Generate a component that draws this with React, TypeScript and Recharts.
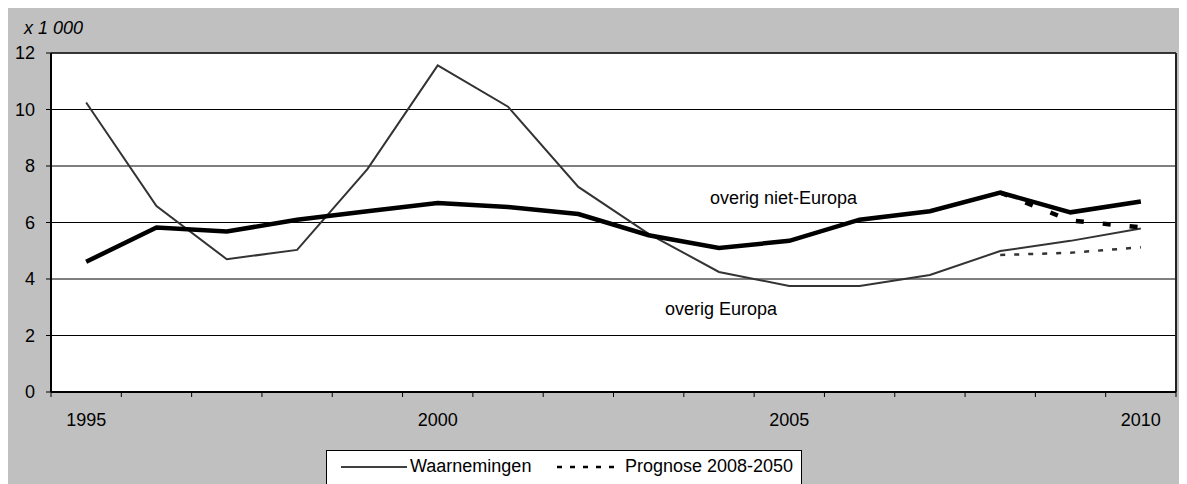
import React from "react";
import {
  LineChart,
  Line,
  XAxis,
  YAxis,
  CartesianGrid,
  ReferenceLine,
} from "recharts";

const years = [1995, 1996, 1997, 1998, 1999, 2000, 2001, 2002, 2003, 2004, 2005, 2006, 2007, 2008, 2009, 2010];
const overigEuropa = [10.25, 6.58, 4.7, 5.03, 7.89, 11.56, 10.1, 7.26, 5.6, 4.25, 3.75, 3.75, 4.14, 4.99, 5.35, 5.79];
const overigNietEuropa = [4.61, 5.82, 5.68, 6.1, 6.4, 6.69, 6.55, 6.3, 5.55, 5.1, 5.35, 6.1, 6.4, 7.06, 6.36, 6.74];
const prognoseYears = [2008, 2009, 2010];
const prognoseEuropa = [4.85, 4.93, 5.12];
const prognoseNietEuropa = [7.06, 6.07, 5.83];
const yTicks = [0, 2, 4, 6, 8, 10, 12];
const xLabelTicks = [1995, 2000, 2005, 2010];
const xMarkTicks = [...years.map((y) => y - 0.5), 2010.5];

const data = years.map((y, i) => {
  const pi = prognoseYears.indexOf(y);
  return {
    year: y,
    europa: overigEuropa[i],
    nietEuropa: overigNietEuropa[i],
    progEuropa: pi >= 0 ? prognoseEuropa[pi] : null,
    progNietEuropa: pi >= 0 ? prognoseNietEuropa[pi] : null,
  };
});

const FONT = "'Liberation Sans', Arial, sans-serif";
const tickStyle = { fontSize: 18, fill: "#000", fontFamily: FONT };

const TickMark = (props: any) => {
  const yb = Math.max(props.y1, props.y2);
  return <line x1={props.x1} x2={props.x1} y1={yb} y2={yb + 5} stroke="#000" strokeWidth={1} />;
};

export default function App() {
  return (
    <div
      style={{
        position: "relative",
        width: 1181,
        height: 476,
        marginLeft: -2,
        background: "#c0c0c0",
        overflow: "hidden",
        fontFamily: FONT,
      }}
    >
      <LineChart
        width={1181}
        height={476}
        data={data}
        margin={{ top: 45, right: 11, left: 0, bottom: 62 }}
      >
        <CartesianGrid
          horizontal={true}
          vertical={false}
          stroke="#000"
          strokeWidth={1}
          fill="#fff"
          fillOpacity={1}
        />
        <XAxis
          dataKey="year"
          type="number"
          domain={[1994.5, 2010.5]}
          ticks={xLabelTicks}
          interval={0}
          height={30}
          tickLine={false}
          axisLine={false}
          tickSize={6}
          tickMargin={15}
          tick={tickStyle}
          allowDataOverflow
        />
        <YAxis
          type="number"
          domain={[0, 12]}
          ticks={yTicks}
          interval={0}
          width={45}
          tickSize={5}
          tickMargin={11}
          tick={tickStyle}
          tickLine={{ stroke: "#000", strokeWidth: 1 }}
          axisLine={{ stroke: "#000", strokeWidth: 2 }}
        />
        {xMarkTicks.map((t) => (
          <ReferenceLine key={t} x={t} ifOverflow="visible" shape={TickMark} />
        ))}
        <ReferenceLine x={2010.5} stroke="#222" strokeWidth={2} ifOverflow="visible" />
        <ReferenceLine y={12} stroke="#222" strokeWidth={1.5} ifOverflow="visible" />
        <ReferenceLine y={0} stroke="#000" strokeWidth={2} ifOverflow="visible" />
        <Line
          type="linear"
          dataKey="europa"
          stroke="#333"
          strokeWidth={2}
          dot={false}
          isAnimationActive={false}
        />
        <Line
          type="linear"
          dataKey="nietEuropa"
          stroke="#000"
          strokeWidth={4.5}
          dot={false}
          isAnimationActive={false}
        />
        <Line
          type="linear"
          dataKey="progEuropa"
          stroke="#333"
          strokeWidth={2.5}
          strokeDasharray="5 9"
          dot={false}
          connectNulls={false}
          isAnimationActive={false}
        />
        <Line
          type="linear"
          dataKey="progNietEuropa"
          stroke="#000"
          strokeWidth={4.5}
          strokeDasharray="8 19"
          dot={false}
          connectNulls={false}
          isAnimationActive={false}
        />
      </LineChart>

      <div style={{ position: "absolute", left: 18, top: 10, fontSize: 18, fontStyle: "italic", color: "#000" }}>
        x 1 000
      </div>
      <div style={{ position: "absolute", left: 704, top: 180, fontSize: 18, color: "#000", whiteSpace: "nowrap" }}>
        overig niet-Europa
      </div>
      <div style={{ position: "absolute", left: 659, top: 291, fontSize: 18, color: "#000", whiteSpace: "nowrap" }}>
        overig Europa
      </div>

      <div
        style={{
          position: "absolute",
          left: 320,
          top: 442,
          width: 476,
          height: 60,
          background: "#fff",
          border: "1px solid #000",
          boxSizing: "border-box",
          fontSize: 18,
          color: "#000",
        }}
      >
        <svg width={476} height={30} style={{ position: "absolute", left: 0, top: 0 }}>
          <line x1={14} y1={16} x2={80} y2={16} stroke="#000" strokeWidth={1.5} />
          <line x1={230} y1={16} x2={290} y2={16} stroke="#000" strokeWidth={2.5} strokeDasharray="5 8" />
        </svg>
        <span style={{ position: "absolute", left: 83, top: 5, whiteSpace: "nowrap" }}>Waarnemingen</span>
        <span style={{ position: "absolute", left: 298, top: 5, whiteSpace: "nowrap" }}>Prognose 2008-2050</span>
      </div>
    </div>
  );
}
